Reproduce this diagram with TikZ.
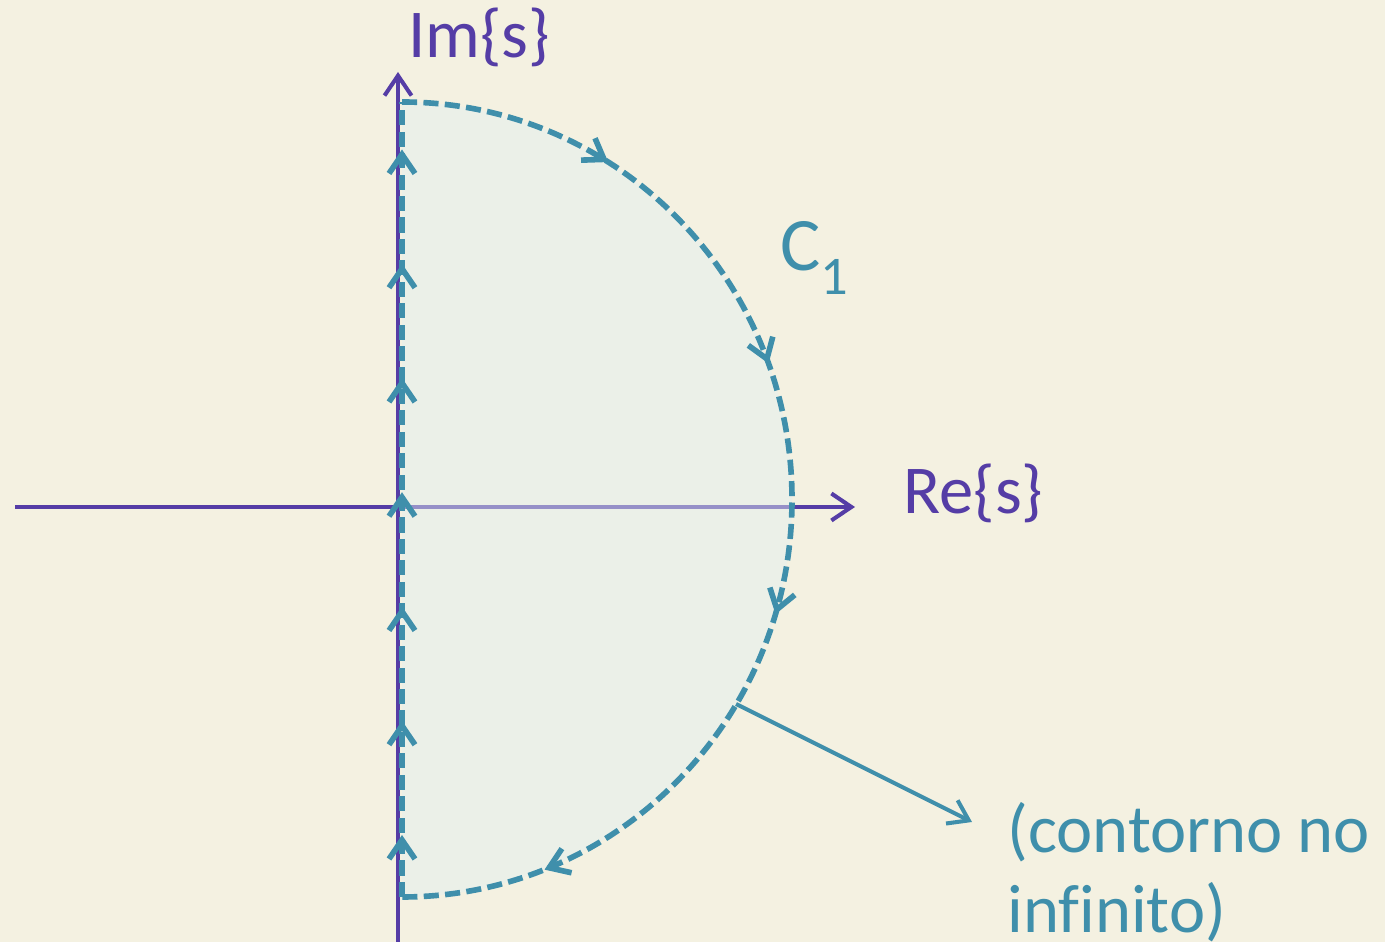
\documentclass[tikz,border=0pt]{standalone}
\usepackage{fontspec}
\setmainfont{Carlito}[Ligatures=NoCommon]
\usetikzlibrary{arrows.meta,decorations.markings}
\definecolor{slidebg}{HTML}{F4F1E1}
\definecolor{axpurple}{HTML}{553DA6}
\definecolor{cteal}{HTML}{3F8FAB}
\definecolor{cfill}{HTML}{E1EFF0}
\tikzset{
  axtip/.tip={Straight Barb[length=4mm,width=5.4mm]},
  ctip/.tip={Straight Barb[length=3.8mm,width=5.2mm]},
  axisline/.style={draw=axpurple,line width=2.3pt,-axtip},
  contour/.style={draw=cteal,line width=3.2pt,dash pattern=on 8.6pt off 3.6pt},
  callout/.style={draw=cteal,line width=2.3pt,-ctip},
  alabel/.style={font=\fontsize{39}{46}\selectfont,text=axpurple,inner sep=0pt,anchor=base west},
  clabel/.style={font=\fontsize{39}{46}\selectfont,text=cteal,inner sep=0pt,anchor=base west,align=left}
}

\begin{document}
\begin{tikzpicture}[x=0.02cm,y=0.02cm]
  \fill[slidebg] (0,0) rectangle (1385,942);
  \useasboundingbox (0,0) rectangle (1385,942);

  \coordinate (imlo) at (398,0);
  \coordinate (imhi) at (398,870);
  \coordinate (relo) at (15,435);
  \coordinate (rehi) at (855,435);
  \coordinate (cbot) at (402,45);
  \coordinate (ctop) at (402,840);
  \coordinate (cinf) at (736,238);
  \coordinate (ntip) at (972,120);

  \draw[axisline] (relo) -- (rehi);
  \draw[axisline] (imlo) -- (imhi);

  \fill[cfill,opacity=.47] (cbot) -- (ctop)
    arc[start angle=90,end angle=-90,x radius=390,y radius=397.5] -- cycle;

  \draw[contour,postaction={decorate},
        decoration={markings,
          mark=between positions 0.078 and 0.95 step 0.1437 with {\arrow{ctip}}}]
    (cbot) -- (ctop);
  \draw[contour,postaction={decorate},
        decoration={markings,
          mark=at position 0.176 with {\arrow{ctip}},
          mark=at position 0.388 with {\arrow{ctip}},
          mark=at position 0.594 with {\arrow{ctip}},
          mark=at position 0.882 with {\arrow{ctip}}}]
    (ctop) arc[start angle=90,end angle=-90,x radius=390,y radius=397.5];

  \node[alabel] (imlab) at (408,884) {Im\{s\}};
  \node[alabel] (relab) at (903,428) {Re\{s\}};
  \node[clabel,font=\fontsize{43}{48}\selectfont] (c1lab) at (780,671)
    {C\raisebox{-13.6pt}{\fontsize{31}{31}\selectfont 1}};
  \node[clabel] (note) at (1007,9) {(contorno no\\infinito)};

  \draw[callout] (cinf) -- (ntip);
\end{tikzpicture}
\end{document}
